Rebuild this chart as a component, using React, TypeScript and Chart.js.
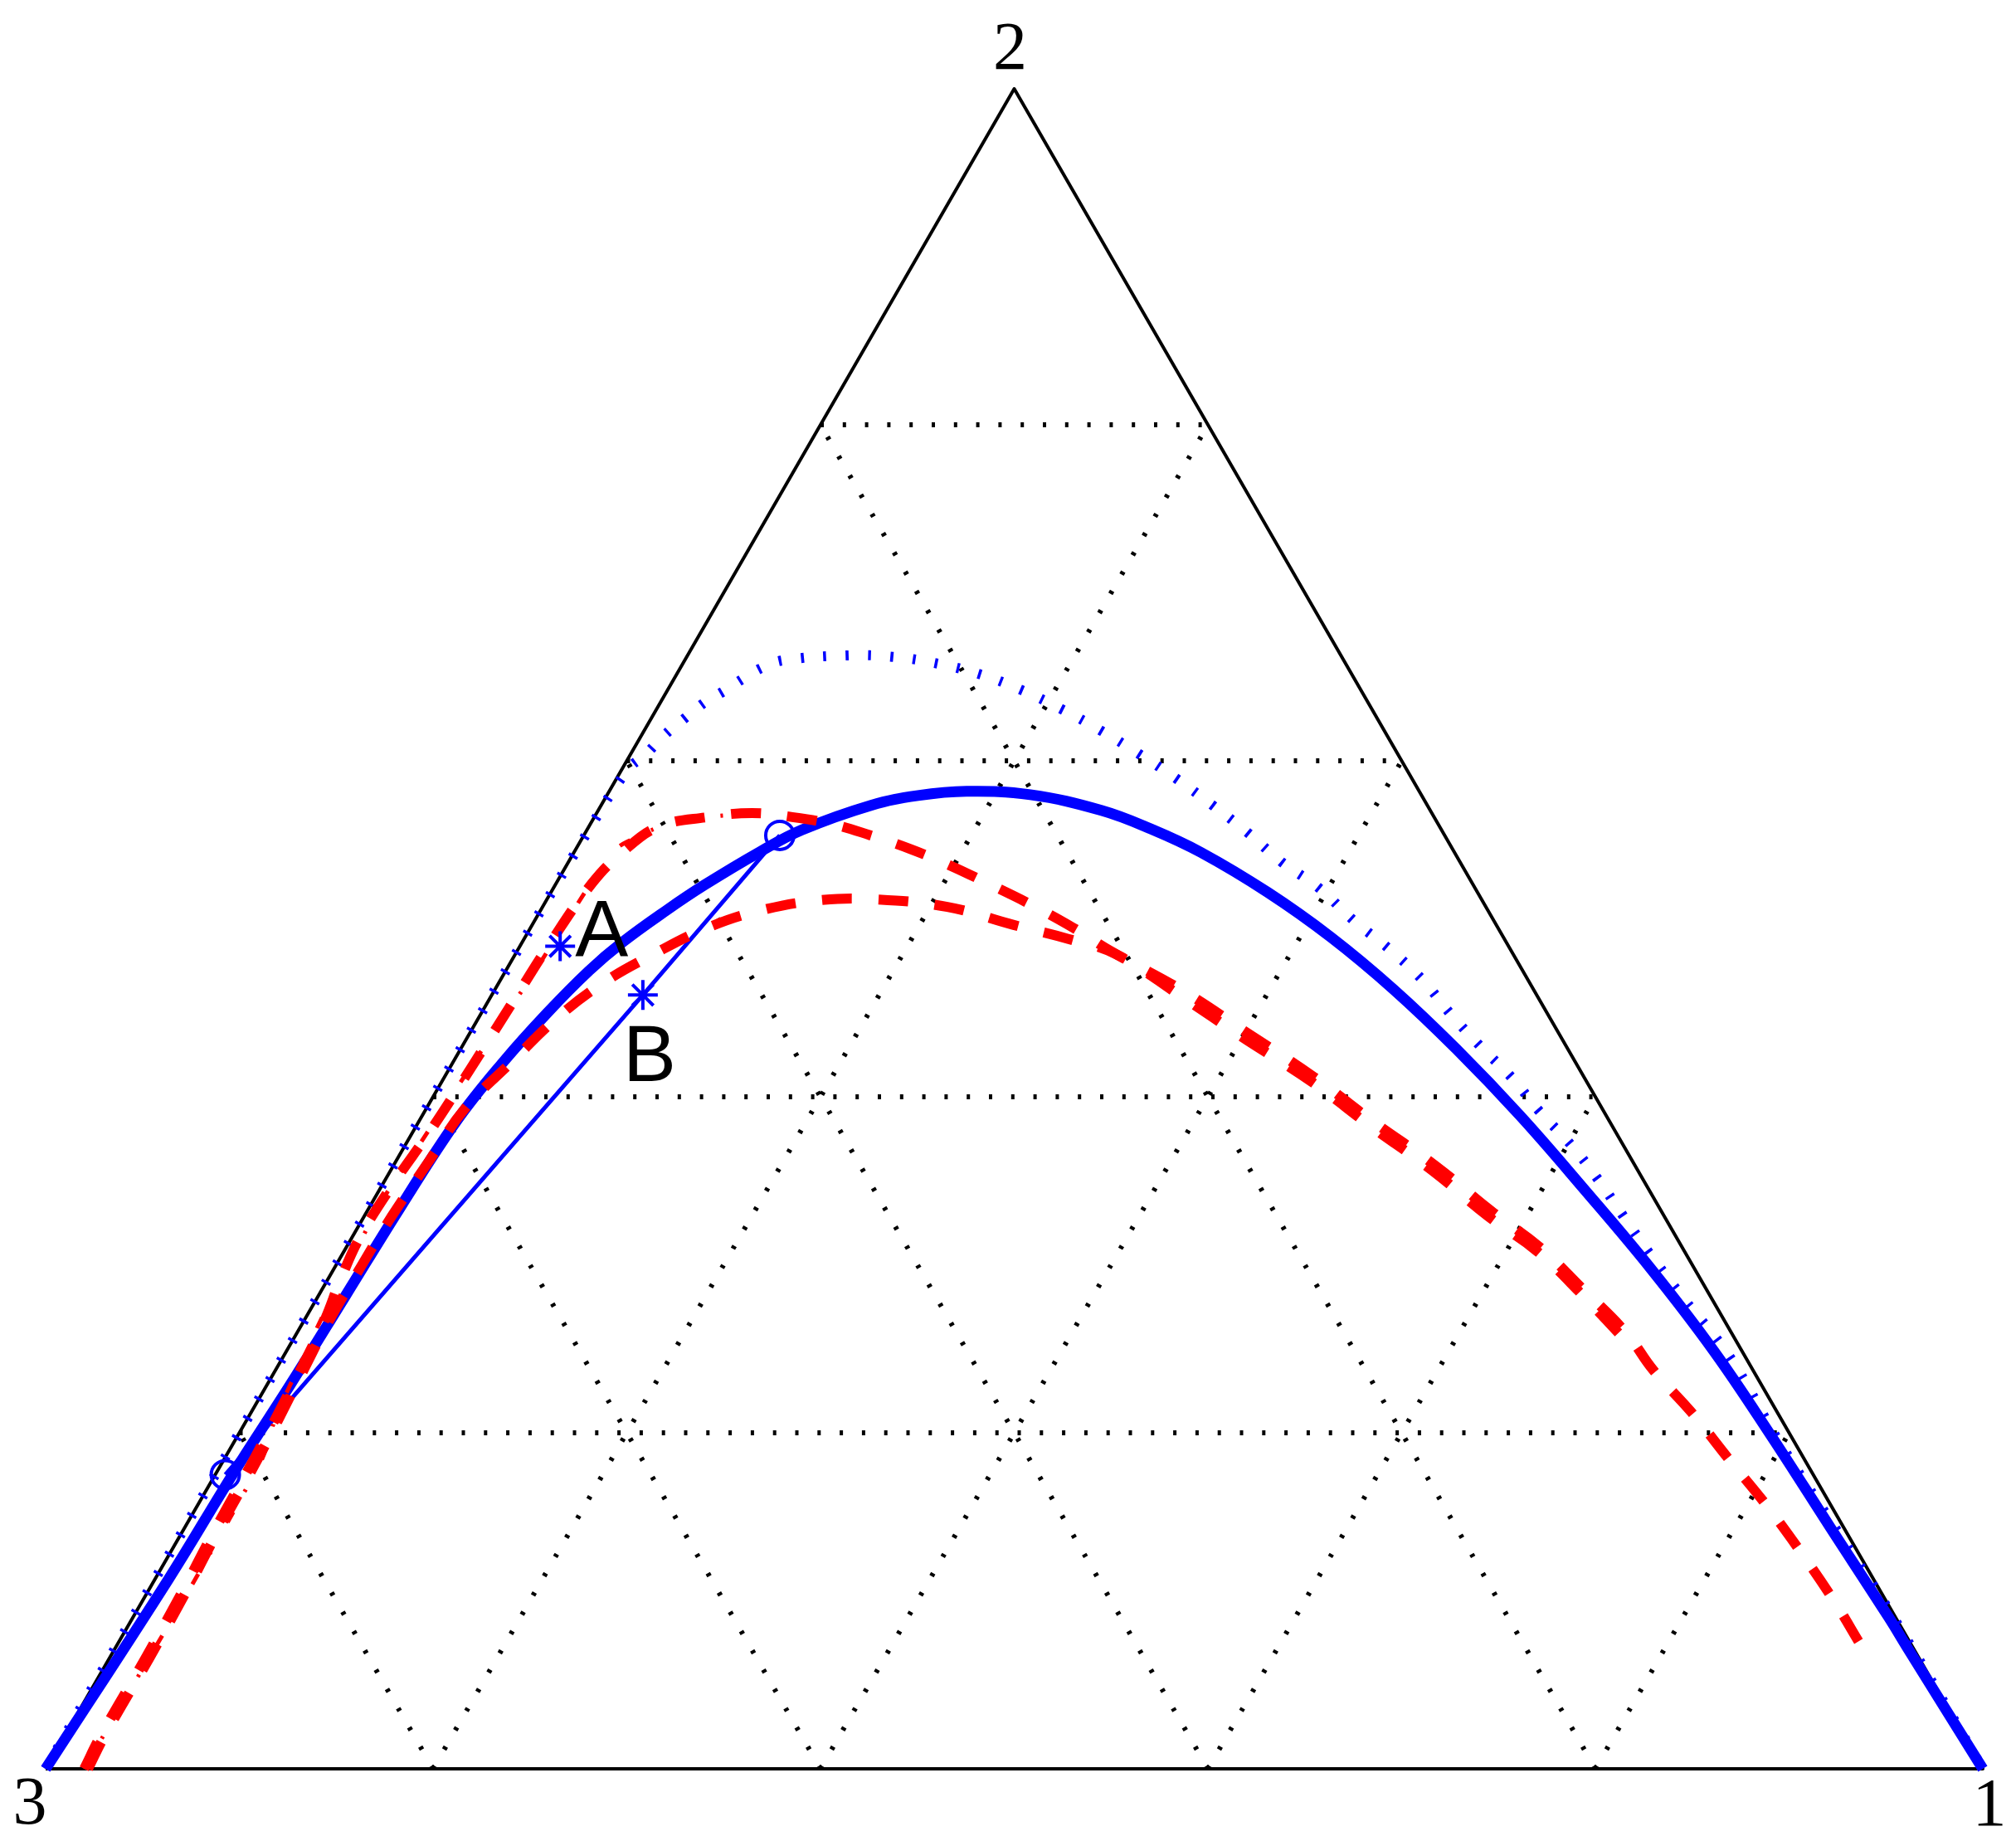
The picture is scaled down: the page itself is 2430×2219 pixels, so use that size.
import React, { useEffect, useRef } from "react";
import { Chart, registerables } from "chart.js";

Chart.register(...registerables);

const SQ3_2 = Math.sqrt(3) / 2;

// Ternary compositions [x1, x2]  (x3 = 1 - x1 - x2)
const vertexLabels = ["1", "2", "3"];
const vertices: number[][] = [[1, 0], [0, 1], [0, 0]];
const gridLevels = [0.2, 0.4, 0.6, 0.8];

const binodalSolid: number[][] = [
  [0, 0], [0.007, 0.113], [0.009, 0.177], [0.012, 0.229], [0.014, 0.281], [0.016, 0.334],
  [0.0193, 0.3856], [0.0259, 0.4208], [0.034, 0.45], [0.043, 0.475], [0.0517, 0.4919], [0.065, 0.511],
  [0.077, 0.526], [0.096, 0.546], [0.111, 0.5589], [0.1393, 0.5735], [0.1607, 0.5793], [0.1845, 0.5818],
  [0.2184, 0.5798], [0.2597, 0.5705], [0.2907, 0.5595], [0.3236, 0.5455], [0.37, 0.5217], [0.4158, 0.4951],
  [0.4639, 0.4639], [0.5142, 0.4283], [0.5667, 0.3888], [0.6207, 0.3458], [0.6799, 0.2976], [0.7369, 0.2486],
  [0.7926, 0.1973], [0.8494, 0.1437], [0.9063, 0.0902], [0.9258, 0.0713], [1, 0],
];

const binodalDotted: number[][] = [
  [0, 0], [0, 0.25], [0, 0.45], [0.001, 0.56], [0.0032, 0.5952], [0.0077, 0.6035], [0.0117, 0.615],
  [0.0175, 0.6257], [0.0228, 0.6347], [0.0293, 0.6414], [0.0355, 0.6488], [0.042, 0.6553],
  [0.0508, 0.6598], [0.0826, 0.6627], [0.1063, 0.6619], [0.1317, 0.6578], [0.1572, 0.6513],
  [0.1825, 0.6422], [0.2092, 0.6307], [0.2351, 0.6183], [0.2618, 0.6044], [0.2888, 0.5895],
  [0.315, 0.5739], [0.3417, 0.5574], [0.3676, 0.5401], [0.395, 0.5244], [0.4231, 0.5047],
  [0.4502, 0.4876], [0.4771, 0.4687], [0.5011, 0.4489], [0.5257, 0.43], [0.5514, 0.4112],
  [0.5755, 0.3913], [0.6016, 0.3715], [0.626, 0.3508], [0.6497, 0.3292], [0.6735, 0.3077],
  [0.7046, 0.2807], [0.7464, 0.2455], [0.7953, 0.1968], [0.8516, 0.1438], [0.908, 0.0909], [1, 0],
];

const tieLine: number[][] = [[0.0052, 0.1751], [0.078, 0.4606], [0.1012, 0.5556]];
const tieEnds: number[][] = [[0.0052, 0.1751], [0.1012, 0.5556]];
const pointA: number[] = [0.0208, 0.4896];
const pointB: number[] = [0.078, 0.4606];

const redUpper: number[][] = [
  [0.0199, 0], [0.0186, 0.0197], [0.0186, 0.0657], [0.0179, 0.1039], [0.0162, 0.1422],
  [0.0153, 0.1858], [0.0133, 0.2287], [0.0106, 0.2662], [0.0066, 0.2914], [0.004, 0.3167],
  [0.0053, 0.3481], [0.0088, 0.381], [0.0111, 0.4192], [0.0129, 0.4552], [0.0147, 0.4916],
  [0.0185, 0.527], [0.0249, 0.5455], [0.0359, 0.5607], [0.0586, 0.5665], [0.0802, 0.5689],
  [0.1022, 0.5665], [0.125, 0.5623], [0.1474, 0.5558], [0.1723, 0.5476], [0.198, 0.5377],
  [0.2229, 0.527], [0.251, 0.5146], [0.28, 0.5007], [0.3066, 0.4867], [0.3561, 0.4628],
  [0.4008, 0.4383], [0.4488, 0.4118], [0.4924, 0.3854], [0.5381, 0.3589], [0.5803, 0.332],
  [0.6159, 0.3106], [0.6508, 0.2855], [0.6864, 0.2593], [0.7109, 0.2376], [0.7439, 0.2119],
  [0.7776, 0.1836], [0.8096, 0.1571], [0.8419, 0.1287], [0.8738, 0.0994], [0.8989, 0.0749],
];

const redLower: number[][] = [
  [0.0219, 0], [0.0206, 0.0197], [0.0206, 0.0657], [0.0199, 0.1039], [0.0182, 0.1422],
  [0.0173, 0.1858], [0.015, 0.2287], [0.013, 0.2662], [0.0133, 0.2989], [0.0142, 0.3286],
  [0.0171, 0.3627], [0.0199, 0.3928], [0.0302, 0.4208], [0.0402, 0.4463], [0.0538, 0.4677],
  [0.0715, 0.485], [0.0915, 0.5007], [0.1148, 0.5113], [0.1419, 0.5171], [0.169, 0.5176],
  [0.209, 0.513], [0.2486, 0.5023], [0.2809, 0.494], [0.3098, 0.485], [0.356, 0.46],
  [0.401, 0.435], [0.449, 0.409], [0.492, 0.383], [0.538, 0.356], [0.58, 0.329],
  [0.616, 0.308], [0.651, 0.283], [0.692, 0.252],
];

const redDashDot: number[][] = [
  [0.0199, 0], [0.0198, 0.1803], [0.0134, 0.2144], [0.0047, 0.3305], [0.0068, 0.3661],
  [0.012, 0.4372], [0.015, 0.4726], [0.0168, 0.5088], [0.0198, 0.5443], [0.024, 0.5516],
  [0.0442, 0.564], [0.07, 0.568],
];

const toXY = (c: number[]) => ({ x: c[0] + c[1] / 2, y: c[1] * SQ3_2 });

const BLUE = "#0000ff";
const RED = "#ff0000";

function lineDs(data: number[][], color: string, width: number, dash: number[], tension = 0.4) {
  return {
    data: data.map(toXY),
    showLine: true,
    borderColor: color,
    backgroundColor: color,
    borderWidth: width,
    borderDash: dash,
    borderCapStyle: "butt" as const,
    borderJoinStyle: "round" as const,
    pointRadius: 0,
    pointHoverRadius: 0,
    tension,
    clip: false as const,
    fill: false,
  };
}

function gridSegments() {
  const segs: number[][][] = [];
  gridLevels.forEach((k) => {
    segs.push([[0, k], [1 - k, k]]);
    segs.push([[k, 0], [k, 1 - k]]);
    segs.push([[1 - k, 0], [0, 1 - k]]);
  });
  return segs;
}

const labelPlugin = {
  id: "ternaryLabels",
  afterDatasetsDraw(chart: any) {
    const { ctx, scales } = chart;
    const px = (c: number[]) => {
      const p = toXY(c);
      return [scales.x.getPixelForValue(p.x), scales.y.getPixelForValue(p.y)];
    };
    ctx.save();
    ctx.fillStyle = "#000";
    ctx.textBaseline = "alphabetic";
    ctx.textAlign = "center";
    ctx.font = "82px 'Liberation Serif'";
    const offs = [[8, 68], [-5, -24], [-19, 66]];
    vertices.forEach((v, i) => {
      const [x, y] = px(v);
      ctx.fillText(vertexLabels[i], x + offs[i][0], y + offs[i][1]);
    });
    ctx.font = "96px 'Liberation Sans'";
    ctx.textAlign = "left";
    const [ax, ay] = px(pointA);
    ctx.fillText("A", ax + 18, ay + 11);
    const [bx, by] = px(pointB);
    ctx.fillText("B", bx - 24, by + 104);
    ctx.restore();
  },
};

export default function App() {
  const ref = useRef<HTMLCanvasElement>(null);
  useEffect(() => {
    const datasets: any[] = [];
    // top-most first (Chart.js draws dataset 0 last)
    datasets.push({
      data: [toXY(pointA), toXY(pointB)],
      pointStyle: "star",
      pointRadius: 18,
      pointBorderWidth: 4,
      borderColor: BLUE,
      backgroundColor: BLUE,
      showLine: false,
      clip: false,
    });
    datasets.push({
      data: tieEnds.map(toXY),
      pointStyle: "circle",
      pointRadius: 17,
      pointBorderWidth: 4,
      borderColor: BLUE,
      backgroundColor: "rgba(0,0,0,0)",
      showLine: false,
      clip: false,
    });
    datasets.push(lineDs(redDashDot, RED, 5, [14, 28, 3, 41]));
    datasets.push(lineDs(redUpper, RED, 12, [36, 32]));
    datasets.push(lineDs(redLower, RED, 12, [36, 32]));
    datasets.push(lineDs(binodalDotted, BLUE, 12, [3.5, 23.5]));
    datasets.push(lineDs(tieLine, BLUE, 5, [], 0));
    datasets.push(lineDs(binodalSolid, BLUE, 13, []));
    datasets.push(lineDs([vertices[2], vertices[0], vertices[1], vertices[2]], "#000", 4, [], 0));
    gridSegments().forEach((s) => datasets.push(lineDs(s, "#000", 6, [4, 22.8], 0)));

    const chart = new Chart(ref.current!, {
      type: "scatter",
      data: { datasets },
      options: {
        responsive: false,
        animation: false,
        devicePixelRatio: 1,
        events: [],
        layout: { padding: { left: 47, top: 99, right: 32, bottom: 79 } },
        scales: {
          x: { type: "linear", min: 0, max: 1, display: false },
          y: { type: "linear", min: 0, max: SQ3_2, display: false },
        },
        plugins: { legend: { display: false }, tooltip: { enabled: false } },
      },
      plugins: [labelPlugin],
    } as any);
    return () => chart.destroy();
  }, []);
  return (
    <div style={{ width: 2414, height: 2203 }}>
      <canvas ref={ref} width={2414} height={2203} style={{ display: "block" }} />
    </div>
  );
}
